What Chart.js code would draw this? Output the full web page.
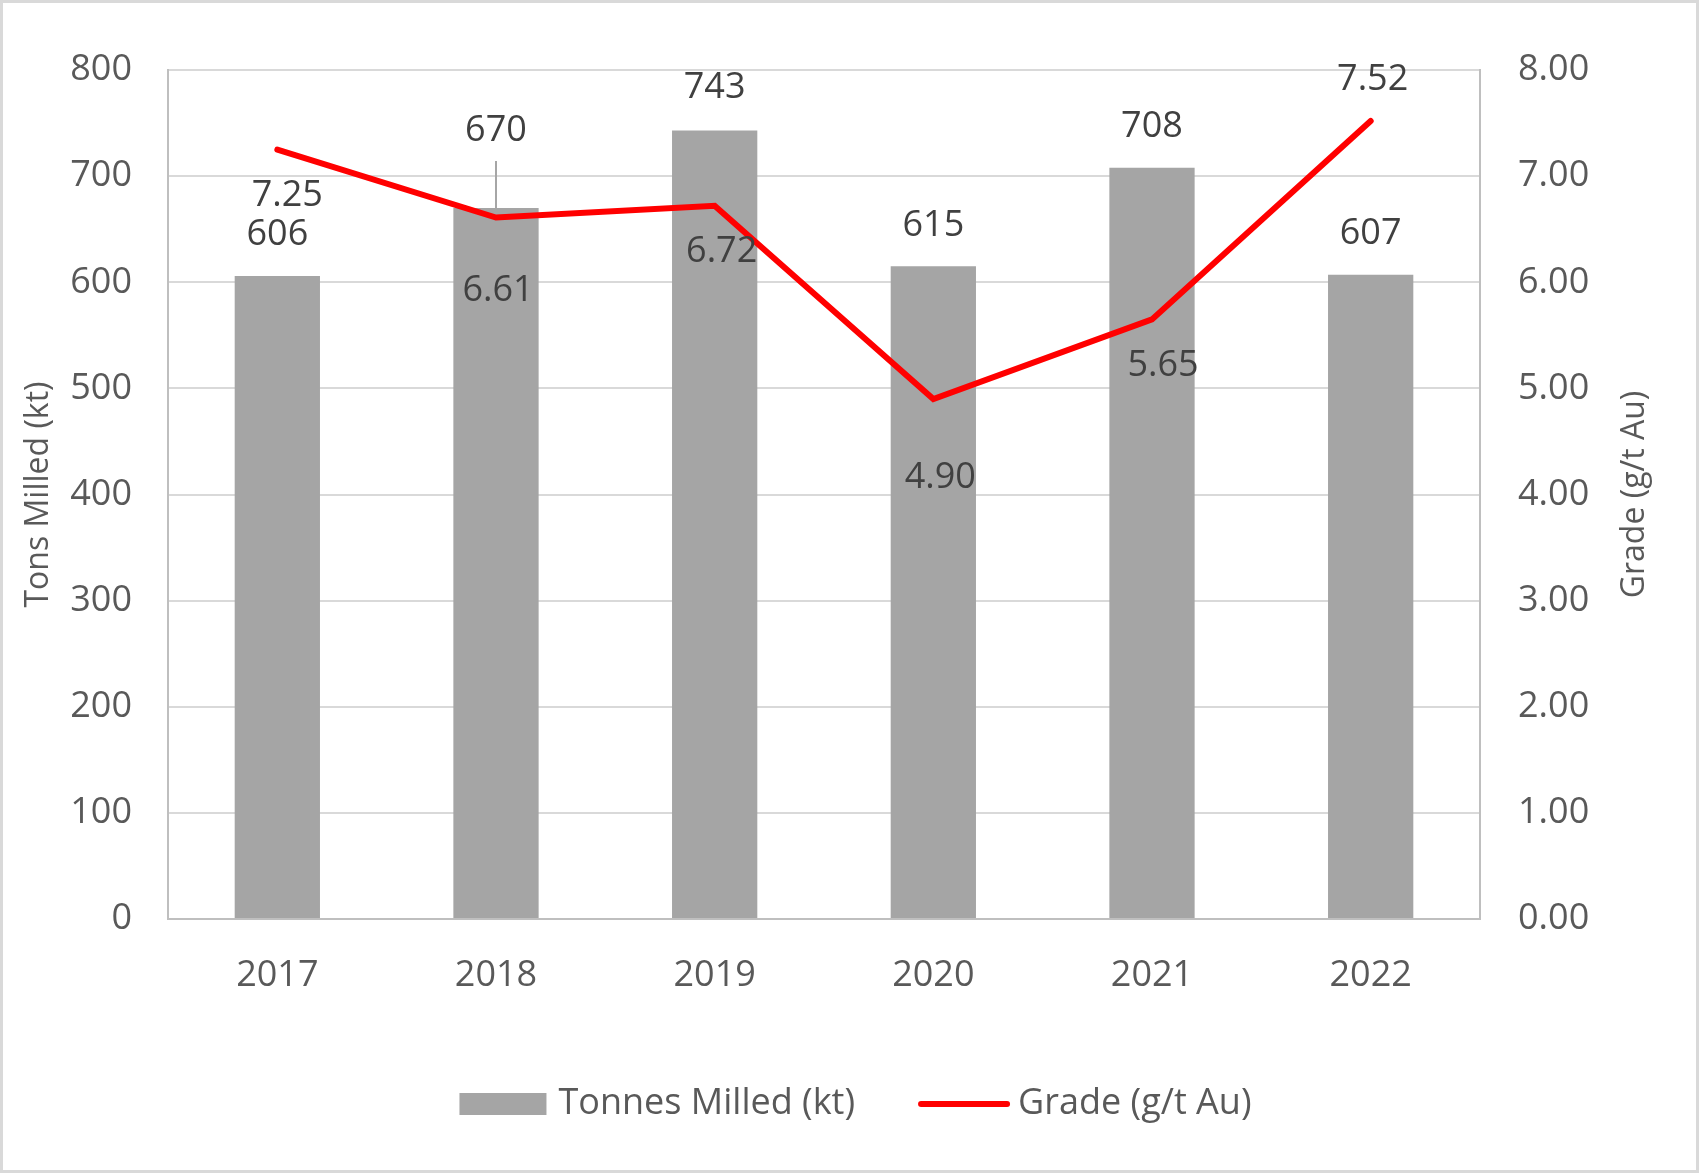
<!DOCTYPE html>
<html>
<head>
<meta charset="utf-8">
<script src="https://cdn.jsdelivr.net/npm/chart.js@4.4.1/dist/chart.umd.min.js"></script>
<style>
  html, body { margin: 0; padding: 0; background: #fff; }
  #wrap { width: 1699px; height: 1173px; }
</style>
</head>
<body>
<div id="wrap"><canvas id="chart" width="1699" height="1173"></canvas></div>
<script>
const years   = ['2017', '2018', '2019', '2020', '2021', '2022'];
const tonnes  = [606, 670, 743, 615, 708, 607];
const grade   = [7.25, 6.61, 6.72, 4.90, 5.65, 7.52];

// label nudges (px)
const tonnesLabelDy = [41, 77, 43, 41, 41, 41];
const gradeLabelDx  = [10, 2, 7, 7, 11, 2];
const gradeLabelDy  = [46, 73, 46, 79, 46, -41];

const FONT = "'Open Sans', sans-serif";
Chart.defaults.font.family = FONT;
Chart.defaults.color = '#595959';

function drawLegend(chart) {
  const ctx = chart.ctx;
  const ds = chart.data.datasets;
  const bar = ds[1], line = ds[0];
  const cy = 1104;
  ctx.save();
  ctx.font = '36px ' + FONT;
  ctx.textBaseline = 'middle';
  ctx.textAlign = 'left';
  const w1 = ctx.measureText(bar.label).width;
  const w2 = ctx.measureText(line.label).width;
  const total = 87 + 12 + w1 + 63 + 92 + 8 + w2;
  let x = (chart.width - total) / 2 + 6;

  ctx.fillStyle = bar.backgroundColor;
  ctx.fillRect(x, cy - 11, 87, 22);
  x += 87 + 12;
  ctx.fillStyle = '#595959';
  ctx.fillText(bar.label, x, cy);
  x += w1 + 63;

  ctx.strokeStyle = line.borderColor;
  ctx.lineWidth = line.borderWidth;
  ctx.lineCap = 'round';
  ctx.beginPath();
  ctx.moveTo(x + 3, cy);
  ctx.lineTo(x + 89, cy);
  ctx.stroke();
  x += 92 + 8;
  ctx.fillText(line.label, x, cy);
  ctx.restore();
}

const extras = {
  id: 'extras',
  beforeDraw(chart) {
    const ctx = chart.ctx;
    ctx.save();
    ctx.fillStyle = '#fff';
    ctx.fillRect(0, 0, chart.width, chart.height);
    ctx.restore();
  },
  afterDatasetsDraw(chart) {
    const ctx = chart.ctx;
    const y = chart.scales.y;
    const barMeta  = chart.getDatasetMeta(1);
    const lineMeta = chart.getDatasetMeta(0);
    ctx.save();
    ctx.font = '36px ' + FONT;
    ctx.fillStyle = '#404040';
    ctx.textAlign = 'center';
    ctx.textBaseline = 'middle';

    barMeta.data.forEach((bar, i) => {
      const top = y.getPixelForValue(tonnes[i]);
      const ly  = top - tonnesLabelDy[i];
      ctx.fillText(String(tonnes[i]), bar.x, ly);
      if (tonnesLabelDy[i] > 60) {
        ctx.strokeStyle = '#a6a6a6';
        ctx.lineWidth = 2;
        ctx.beginPath();
        ctx.moveTo(bar.x, ly + 30);
        ctx.lineTo(bar.x, top);
        ctx.stroke();
      }
    });

    lineMeta.data.forEach((pt, i) => {
      ctx.fillText(grade[i].toFixed(2), pt.x + gradeLabelDx[i], pt.y + gradeLabelDy[i]);
    });

    // right axis title, reading bottom to top like the left one
    const area = chart.chartArea;
    ctx.fillStyle = '#595959';
    ctx.font = '32px ' + FONT;
    ctx.translate(1635, (area.top + area.bottom) / 2);
    ctx.rotate(-Math.PI / 2);
    ctx.fillText('Grade (g/t Au)', 0, 0);
    ctx.restore();
  },
  afterDraw(chart) {
    drawLegend(chart);
    const ctx = chart.ctx;
    ctx.save();
    ctx.strokeStyle = '#d9d9d9';
    ctx.lineWidth = 3;
    ctx.strokeRect(1.5, 1.5, chart.width - 3, chart.height - 3);
    ctx.restore();
  }
};

new Chart(document.getElementById('chart'), {
  data: {
    labels: years,
    datasets: [
      {
        type: 'line',
        label: 'Grade (g/t Au)',
        data: grade,
        yAxisID: 'y1',
        borderColor: '#ff0000',
        backgroundColor: '#ff0000',
        borderWidth: 6,
        borderCapStyle: 'round',
        pointRadius: 0,
        tension: 0,
        order: 0
      },
      {
        type: 'bar',
        label: 'Tonnes Milled (kt)',
        data: tonnes,
        yAxisID: 'y',
        backgroundColor: '#a5a5a5',
        borderWidth: 0,
        categoryPercentage: 0.78,
        barPercentage: 0.5,
        order: 1
      }
    ]
  },
  options: {
    responsive: false,
    animation: false,
    layout: { padding: { top: 70, left: 0, right: 0, bottom: 144 } },
    plugins: {
      tooltip: { enabled: false },
      legend: { display: false }
    },
    scales: {
      x: {
        offset: true,
        grid: { display: false },
        border: { color: '#bfbfbf', width: 2 },
        ticks: { padding: 27, font: { size: 36 }, color: '#595959' },
        afterFit: s => { s.height = 110; }
      },
      y: {
        position: 'left',
        min: 0, max: 800,
        ticks: { stepSize: 100, padding: 36, font: { size: 36 }, color: '#595959' },
        grid: { color: '#d9d9d9', lineWidth: 2, drawTicks: false },
        border: { color: '#bfbfbf', width: 2 },
        title: { display: true, text: 'Tons Milled (kt)', font: { size: 32 }, color: '#595959', padding: { top: 20, bottom: 0 } },
        afterFit: s => { s.width = 168; }
      },
      y1: {
        position: 'right',
        min: 0, max: 8,
        ticks: { stepSize: 1, padding: 38, font: { size: 36 }, color: '#595959', callback: v => v.toFixed(2) },
        grid: { drawOnChartArea: false, drawTicks: false },
        border: { color: '#bfbfbf', width: 2 },
        afterFit: s => { s.width = 219; }
      }
    }
  },
  plugins: [extras]
});
</script>
</body>
</html>
